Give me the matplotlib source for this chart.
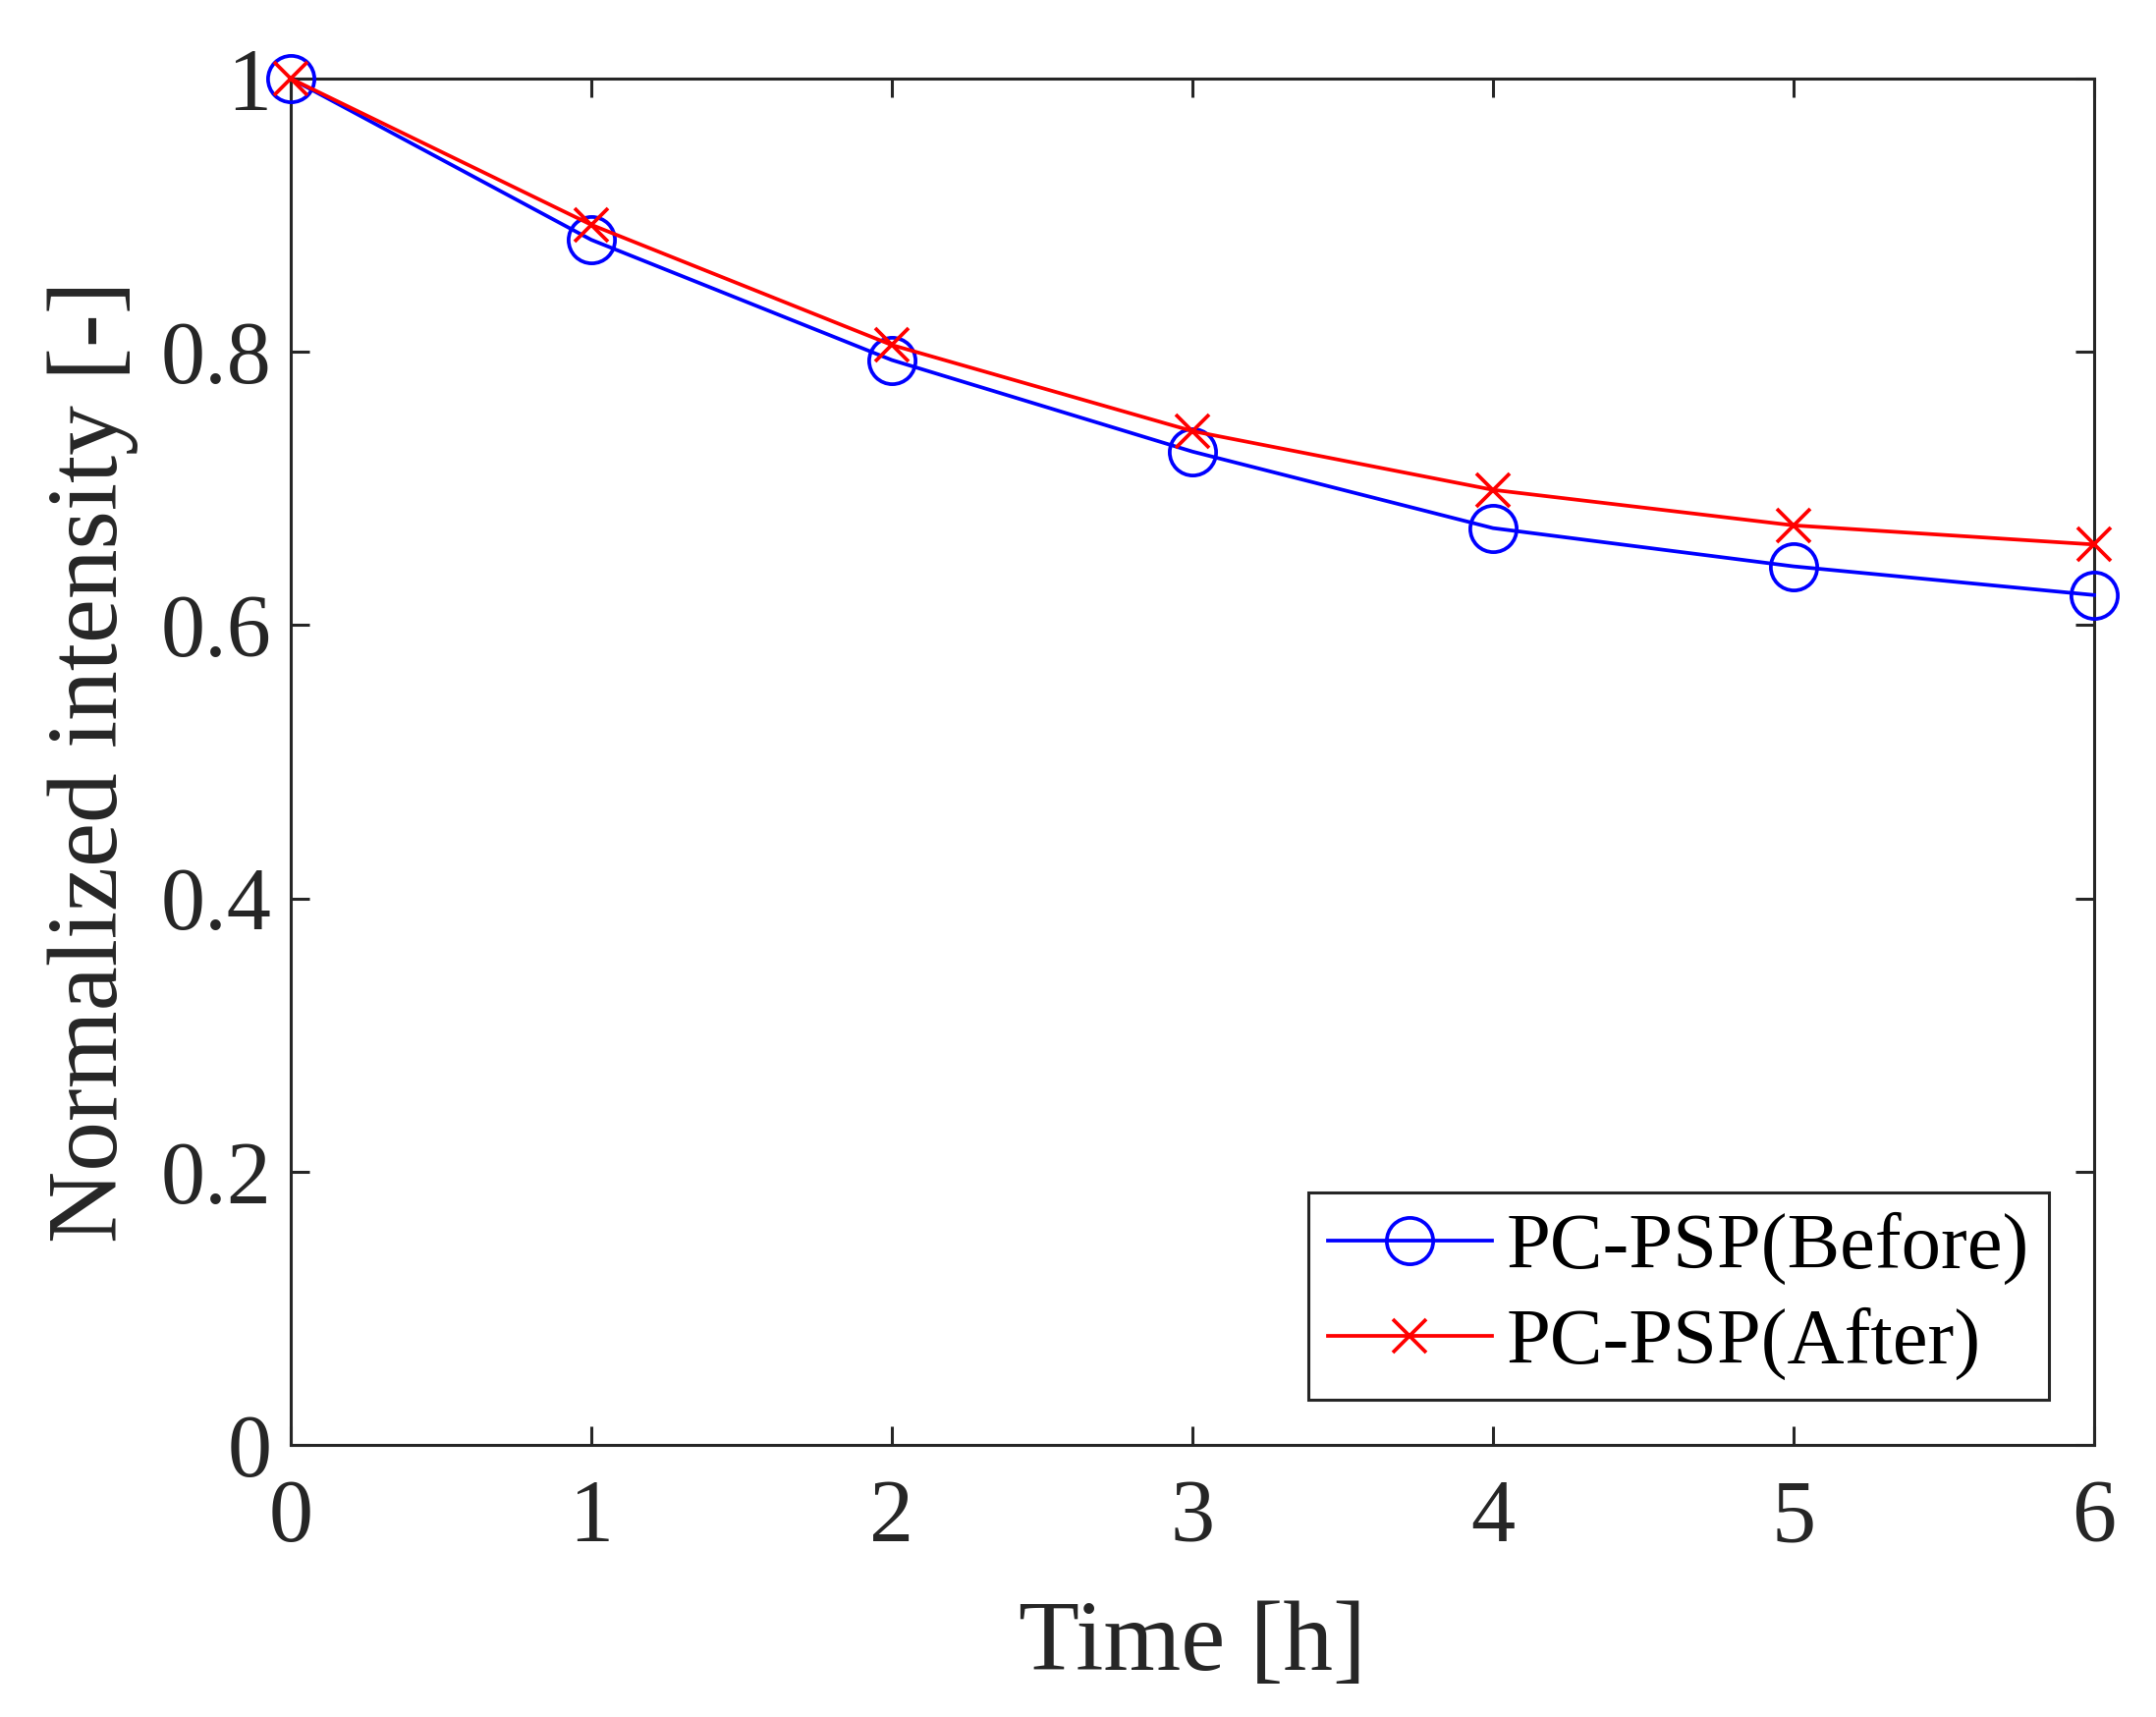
import matplotlib
matplotlib.use('Agg')
import matplotlib.pyplot as plt

plt.rcParams['font.family'] = ['Liberation Serif', 'DejaVu Serif']

# data
time_h = [0, 1, 2, 3, 4, 5, 6]
before = [1.0, 0.882, 0.794, 0.727, 0.671, 0.643, 0.622]
after = [1.0, 0.893, 0.805, 0.742, 0.699, 0.673, 0.659]
xticks = [0, 1, 2, 3, 4, 5, 6]
yticks = [0, 0.2, 0.4, 0.6, 0.8, 1.0]
yticklabels = ['0', '0.2', '0.4', '0.6', '0.8', '1']

dark = '#262626'
W, H = 2195, 1748

fig = plt.figure(figsize=(W / 100, H / 100), dpi=100)
# axes box in pixels: left 296, right 2132, top 80, bottom 1471
ax = fig.add_axes([296 / W, 1 - 1471 / H, (2132 - 296) / W, (1471 - 80) / H])

ax.plot(time_h, before, color='blue', lw=2.7, marker='o', markersize=34,
        markerfacecolor='none', markeredgewidth=2.7, label='PC-PSP(Before)',
        clip_on=False, zorder=3)
ax.plot(time_h, after, color='red', lw=2.7, marker='x', markersize=25,
        markeredgewidth=2.7, label='PC-PSP(After)', clip_on=False, zorder=4)

ax.set_xlim(0, 6)
ax.set_ylim(0, 1)
ax.set_xticks(xticks)
ax.set_yticks(yticks)
ax.set_yticklabels(yticklabels)
ax.tick_params(direction='in', length=14, width=2.2, top=True, right=True,
               labelsize=65, colors=dark)
ax.tick_params(axis='x', pad=25)
ax.tick_params(axis='y', pad=14)
for s in ax.spines.values():
    s.set_linewidth(2.2)
    s.set_color(dark)

ax.set_xlabel('Time [h]', fontsize=73, color=dark, labelpad=30)
ax.set_ylabel('Normalized intensity [-]', fontsize=73, color=dark, labelpad=16)

leg = ax.legend(loc='lower right', bbox_to_anchor=(0.975, 0.033), fontsize=58,
                frameon=True, fancybox=False, edgecolor=dark, handlelength=2.08,
                borderpad=0.25, labelspacing=0.28, handletextpad=0.18,
                borderaxespad=0, framealpha=1)
leg.get_frame().set_linewidth(2.2)
for t in leg.get_texts():
    t.set_color('black')

fig.savefig('out.png', dpi=100)
